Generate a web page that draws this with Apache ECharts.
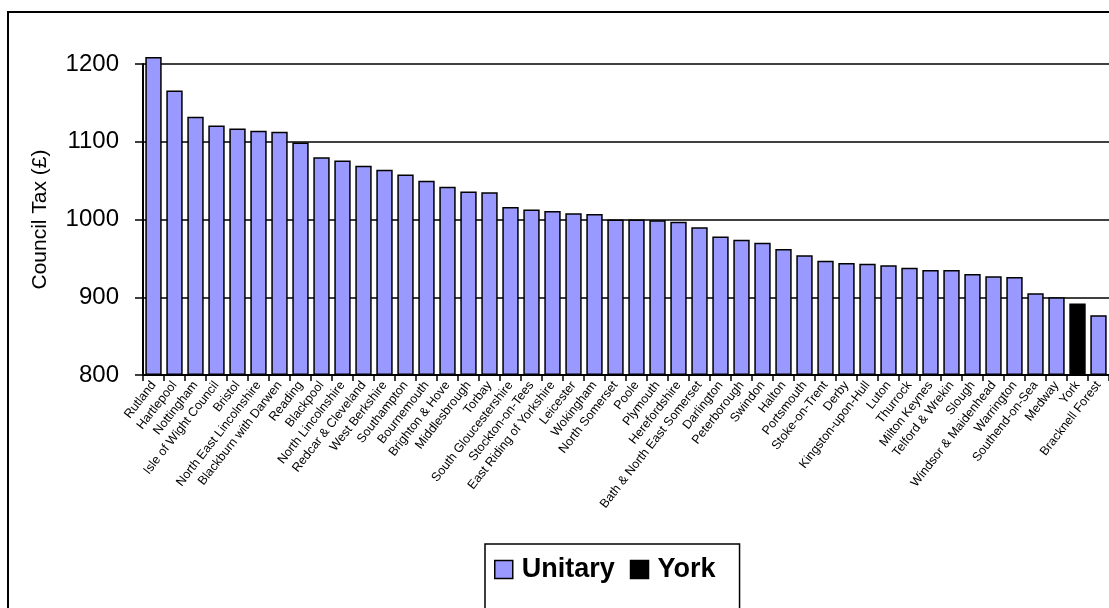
<!DOCTYPE html>
<html>
<head>
<meta charset="utf-8">
<script src="https://cdn.jsdelivr.net/npm/echarts@6/dist/echarts.min.js"></script>
<style>
html,body{margin:0;padding:0;background:#fff;}
#chart{width:1109px;height:608px;}
</style>
</head>
<body>
<div id="chart"></div>
<script>
const categories = ["Rutland","Hartlepool","Nottingham","Isle of Wight Council","Bristol","North East Lincolnshire","Blackburn with Darwen","Reading","Blackpool","North Lincolnshire","Redcar & Cleveland","West Berkshire","Southampton","Bournemouth","Brighton & Hove","Middlesbrough","Torbay","South Gloucestershire","Stockton-on-Tees","East Riding of Yorkshire","Leicester","Wokingham","North Somerset","Poole","Plymouth","Herefordshire","Bath & North East Somerset","Darlington","Peterborough","Swindon","Halton","Portsmouth","Stoke-on-Trent","Derby","Kingston-upon-Hull","Luton","Thurrock","Milton Keynes","Telford & Wrekin","Slough","Windsor & Maidenhead","Warrington","Southend-on-Sea","Medway","York","Bracknell Forest"];
const values = [1209,1166,1132,1121,1117,1114,1113,1099,1080,1076,1069,1064,1058,1050,1042,1036,1035,1016,1013,1011,1008,1007,1000,1000,999,997,990,978,974,970,962,954,947,944,943,941,938,935,935,930,927,926,905,900,892,877];
const highlightName = "York";
const seriesNames = ["Unitary","York"];
const yTicks = {min:800, max:1200, interval:100};
const yTitle = "Council Tax (£)";

const base = yTicks.min;
const baseData = values.map(()=> base);
const barData = values.map((v,i)=> categories[i]===highlightName
  ? {value: v - base, itemStyle:{color:'#000000'}}
  : v - base);

const chart = echarts.init(document.getElementById('chart'), null, {renderer:'canvas'});
const font = 'Liberation Sans, Arial, sans-serif';
chart.setOption({
  animation:false,
  backgroundColor:'#fff',
  textStyle:{fontFamily:font},
  graphic:[{type:'rect', shape:{x:8, y:12, width:1200, height:700}, style:{fill:'none', stroke:'#000', lineWidth:2}, z:-10}],
  grid:{left:143, right:0, top:64, bottom:233, containLabel:false},
  legend:{
    data:seriesNames, left:485, top:544, orient:'horizontal',
    borderColor:'#000', borderWidth:1.5, padding:[12,24,40,9],
    itemWidth:18, itemHeight:18, itemGap:15, icon:'rect',
    itemStyle:{borderColor:'#000', borderWidth:1.5},
    textStyle:{fontSize:27, fontWeight:'bold', color:'#000', fontFamily:font, padding:[0,0,0,4]}
  },
  xAxis:{
    type:'category', data:categories,
    axisLine:{lineStyle:{color:'#000', width:2}},
    axisTick:{show:true, length:6, lineStyle:{color:'#000', width:1.5}},
    axisLabel:{interval:0, rotate:52, fontSize:12.5, color:'#000', margin:8, fontFamily:font}
  },
  yAxis:{
    type:'value', min:yTicks.min, max:yTicks.max, interval:yTicks.interval,
    name:yTitle, nameLocation:'middle', nameGap:92, nameRotate:90,
    nameTextStyle:{fontSize:21, color:'#000', fontFamily:font},
    axisLine:{show:true, lineStyle:{color:'#000', width:2}},
    axisTick:{show:true, length:8, lineStyle:{color:'#000', width:1.5}},
    axisLabel:{fontSize:24, color:'#000', margin:24, fontFamily:font, formatter:(v)=>String(v)},
    splitLine:{show:true, lineStyle:{color:'#000', width:1.5}}
  },
  series:[
    {name:'base', type:'bar', stack:'s', data:baseData, barCategoryGap:'22%', silent:true,
     itemStyle:{color:'rgba(0,0,0,0)', borderWidth:0}},
    {name:seriesNames[0], type:'bar', stack:'s', data:barData, clip:false, barCategoryGap:'22%',
     itemStyle:{color:'#9999FF', borderColor:'#000', borderWidth:1.5}},
    {name:seriesNames[1], type:'bar', stack:'s', data:[], barCategoryGap:'22%',
     itemStyle:{color:'#000000', borderColor:'#000', borderWidth:1.5}}
  ]
});
</script>
</body>
</html>
